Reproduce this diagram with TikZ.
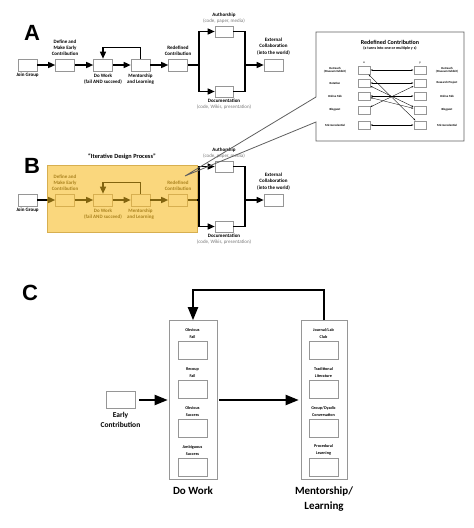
\documentclass[tikz,border=0pt]{standalone}
\usepackage{fontspec}
\setmainfont{Carlito}
\newfontfamily\headfont{Liberation Sans}
\usetikzlibrary{arrows.meta,positioning}

\definecolor{ideafill}{RGB}{250,215,125}
\definecolor{ideaedge}{RGB}{215,175,80}
\definecolor{ideatext}{RGB}{170,130,30}
\definecolor{ideaarrow}{RGB}{130,100,15}
\definecolor{boxedge}{RGB}{150,150,150}
\definecolor{subtext}{RGB}{120,120,120}
\definecolor{insetedge}{RGB}{95,95,95}

\begin{document}
\begin{tikzpicture}[x=1pt,y=-1pt,
	stage/.style={draw=boxedge,fill=white,line width=0.6pt,minimum width=19pt,minimum height=12pt,inner sep=0pt},
	ideastage/.style={stage,draw=ideaedge,fill=ideafill},
	lbl/.style={font=\fontsize{5}{5.8}\selectfont\bfseries,align=center,inner sep=0.3pt},
	sublbl/.style={font=\fontsize{5}{5.8}\selectfont,text=subtext,inner sep=0.3pt},
	flow/.style={line width=1.4pt,-{Triangle[length=7pt,width=6pt]}},
	plain/.style={line width=1.4pt},
	bigflow/.style={line width=2pt,-{Triangle[length=13pt,width=10pt]}},
	panel/.style={font=\headfont\fontsize{22}{22}\selectfont\bfseries,inner sep=0pt},
	tinybox/.style={draw=boxedge,line width=0.4pt,minimum width=12pt,minimum height=8pt,inner sep=0pt},
	tinylbl/.style={font=\fontsize{3}{3.6}\selectfont\bfseries,align=center,inner sep=0pt},
	swap/.style={line width=0.35pt,{Stealth[length=2pt,width=1.6pt]}-{Stealth[length=2pt,width=1.6pt]},shorten <=0.5pt,shorten >=0.5pt},
	collbl/.style={font=\fontsize{4.2}{7}\selectfont\bfseries,align=center,inner sep=0pt},
	biglbl/.style={font=\fontsize{11}{15}\selectfont\bfseries,align=center,inner sep=0pt}
]
	\useasboundingbox (0,0) rectangle (474,528);

	% A
	\node[panel] (tagA) at (32,33) {A};
	\node[stage] (joinA) at (27.5,65) {};
	\node[stage] (defineA) at (65,65) {};
	\node[stage] (workA) at (103,65) {};
	\node[stage] (mentorA) at (140.5,65) {};
	\node[stage] (redefA) at (178,65) {};
	\node[stage,minimum width=18pt,minimum height=11pt] (authorA) at (224,31.5) {};
	\node[stage,minimum width=18pt,minimum height=11pt] (docuA) at (224,91.5) {};
	\node[stage] (externA) at (273.5,65) {};
	\coordinate (splitA) at (199,65);
	\coordinate (mergeA) at (245,65);

	% A labels
	\node[lbl,below=1.5pt of joinA] (joinAlbl) {Join Group};
	\node[lbl,above=3pt of defineA] (defineAlbl) {Define and\\Make Early\\Contribution};
	\node[lbl,below=2pt of workA] (workAlbl) {Do Work\\(fail AND succeed)};
	\node[lbl,below=2pt of mentorA] (mentorAlbl) {Mentorship\\and Learning};
	\node[lbl,above=3pt of redefA] (redefAlbl) {Redefined\\Contribution};
	\node[sublbl,above=2pt of authorA] (authorAsub) {(code, paper, media)};
	\node[lbl,above=0.8pt of authorAsub] (authorAlbl) {Authorship};
	\node[lbl,below=1.5pt of docuA] (docuAlbl) {Documentation};
	\node[sublbl,below=0.8pt of docuAlbl] (docuAsub) {(code, Wikis, presentation)};
	\node[lbl,above=3pt of externA,font=\fontsize{5}{6.5}\selectfont\bfseries] (externAlbl) {External\\Collaboration\\(into the world)};

	% A arrows
	\draw[flow] (joinA) -- (defineA);
	\draw[flow] (defineA) -- (workA);
	\draw[flow] (workA) -- (mentorA);
	\draw[flow] (mentorA) -- (redefA);
	\draw[flow] (mentorA.north) -- ++(0,-11) -| (workA.north);
	\draw[plain] (redefA) -- (splitA);
	\draw[flow] (splitA) |- (authorA);
	\draw[flow] (splitA) |- (docuA);
	\draw[plain] (authorA) -| (mergeA);
	\draw[plain] (docuA) -| (mergeA);
	\draw[flow] (mergeA) -- (externA);

	% B
	\node[panel] (tagB) at (32,166) {B};
	\node[draw=ideaedge,fill=ideafill,line width=0.6pt,minimum width=150pt,minimum height=67pt,inner sep=0pt] (iterative) at (122,198.5) {};
	\node[font=\fontsize{6.3}{7}\selectfont\bfseries,above=1.5pt of iterative] (iterativelbl) {``Iterative Design Process''};
	\node[stage] (joinB) at (27.5,200) {};
	\node[ideastage] (defineB) at (65,200) {};
	\node[ideastage] (workB) at (103,200) {};
	\node[ideastage] (mentorB) at (140.5,200) {};
	\node[ideastage] (redefB) at (178,200) {};
	\node[stage,minimum width=18pt,minimum height=11pt] (authorB) at (224,166.5) {};
	\node[stage,minimum width=18pt,minimum height=11pt] (docuB) at (224,226.5) {};
	\node[stage] (externB) at (273.5,200) {};
	\coordinate (splitB) at (199,200);
	\coordinate (mergeB) at (245,200);

	% B labels
	\node[lbl,below=1.5pt of joinB] (joinBlbl) {Join Group};
	\node[lbl,text=ideatext,above=3pt of defineB] (defineBlbl) {Define and\\Make Early\\Contribution};
	\node[lbl,text=ideatext,below=2pt of workB] (workBlbl) {Do Work\\(fail AND succeed)};
	\node[lbl,text=ideatext,below=2pt of mentorB] (mentorBlbl) {Mentorship\\and Learning};
	\node[lbl,text=ideatext,above=3pt of redefB] (redefBlbl) {Redefined\\Contribution};
	\node[sublbl,above=2pt of authorB] (authorBsub) {(code, paper, media)};
	\node[lbl,above=0.8pt of authorBsub] (authorBlbl) {Authorship};
	\node[lbl,below=1.5pt of docuB] (docuBlbl) {Documentation};
	\node[sublbl,below=0.8pt of docuBlbl] (docuBsub) {(code, Wikis, presentation)};
	\node[lbl,above=3pt of externB,font=\fontsize{5}{6.5}\selectfont\bfseries] (externBlbl) {External\\Collaboration\\(into the world)};

	% B arrows
	\draw[flow,ideaarrow] (joinB) -- (defineB);
	\draw[plain] (joinB) -- (joinB -| iterative.west);
	\draw[flow,ideaarrow] (defineB) -- (workB);
	\draw[flow,ideaarrow] (workB) -- (mentorB);
	\draw[flow,ideaarrow] (mentorB) -- (redefB);
	\draw[flow,ideaarrow] (mentorB.north) -- ++(0,-11) -| (workB.north);
	\draw[plain,ideaarrow] (redefB) -- (redefB -| iterative.east);
	\draw[plain] (redefB -| iterative.east) -- (splitB);
	\draw[flow] (splitB) |- (authorB);
	\draw[flow] (splitB) |- (docuB);
	\draw[plain] (authorB) -| (mergeB);
	\draw[plain] (docuB) -| (mergeB);
	\draw[flow] (mergeB) -- (externB);

	% inset: redefined contribution
	\coordinate (pointer) at (185,176);
	\draw[insetedge,line width=0.8pt,line join=miter] (316,32) -- (464,32) -- (464,141) -- (316,141) -- (316,122) -- (pointer) -- (316,97) -- cycle;
	\node[font=\fontsize{6}{7}\selectfont\bfseries,inner sep=0pt] (insettitle) at (390,42) {Redefined Contribution};
	\node[font=\fontsize{4}{5}\selectfont\bfseries,inner sep=0pt] (insetsub) at (390,48) {(x turns into one or multiple y s)};
	\node[tinybox] (outL) at (364,70) {};
	\node[tinybox] (rotL) at (364,83) {};
	\node[tinybox] (onlL) at (364,96) {};
	\node[tinybox] (blogL) at (364,110) {};
	\node[tinybox] (microL) at (364,125) {};
	\node[tinybox] (outR) at (420,70) {};
	\node[tinybox] (resR) at (420,83) {};
	\node[tinybox] (onlR) at (420,96) {};
	\node[tinybox] (blogR) at (420,110) {};
	\node[tinybox] (microR) at (420,125) {};
	\node[tinylbl,above=2pt of outL] (xlbl) {x};
	\node[tinylbl,above=2pt of outR] (ylbl) {y};
	\node[tinylbl] (outLlbl) at (335,70) {Outreach\\(Museum Exhibit)};
	\node[tinylbl] (rotLlbl) at (335,83) {Rotation};
	\node[tinylbl] (onlLlbl) at (335,96) {Online Talk};
	\node[tinylbl] (blogLlbl) at (335,110) {Blogpost};
	\node[tinylbl] (microLlbl) at (335,125) {Microcredential};
	\node[tinylbl] (outRlbl) at (447,70) {Outreach\\(Museum Exhibit)};
	\node[tinylbl] (resRlbl) at (447,83) {Research Project};
	\node[tinylbl] (onlRlbl) at (447,96) {Online Talk};
	\node[tinylbl] (blogRlbl) at (447,110) {Blogpost};
	\node[tinylbl] (microRlbl) at (447,125) {Microcredential};
	\draw[swap] (outL) -- (outR);
	\draw[swap] (outL) -- (microR);
	\draw[swap] (rotL) -- (resR);
	\draw[swap] (rotL) -- (blogR);
	\draw[swap] (onlL) -- (onlR);
	\draw[swap] (onlL) -- (blogR);
	\draw[swap] (blogL) -- (resR);
	\draw[swap] (microL) -- (microR);

	% C
	\node[panel] (tagC) at (30,293) {C};
	\node[stage,minimum width=29pt,minimum height=17pt] (early) at (120.5,400) {};
	\node[font=\fontsize{7.5}{10}\selectfont\bfseries,align=center,inner sep=0pt,below=3pt of early] (earlylbl) {Early\\Contribution};

	% do work column
	\node[draw=boxedge,line width=0.6pt,minimum width=48pt,minimum height=159pt,inner sep=0pt] (workcol) at (193,400) {};
	\node[stage,minimum width=29pt,minimum height=18pt] (obfail) at (192.5,350) {};
	\node[stage,minimum width=29pt,minimum height=18pt] (refail) at (192.5,389) {};
	\node[stage,minimum width=29pt,minimum height=18pt] (obsucc) at (192.5,428) {};
	\node[stage,minimum width=29pt,minimum height=18pt] (ambsucc) at (192.5,467) {};
	\node[collbl,above=2pt of obfail] (obfaillbl) {Obvious\\Fail};
	\node[collbl,above=2pt of refail] (refaillbl) {Recoup\\Fail};
	\node[collbl,above=2pt of obsucc] (obsucclbl) {Obvious\\Success};
	\node[collbl,above=2pt of ambsucc] (ambsucclbl) {Ambiguous\\Success};
	\node[biglbl,below=7pt of workcol] (workcollbl) {Do Work};

	% mentorship column
	\node[draw=boxedge,line width=0.6pt,minimum width=46pt,minimum height=159pt,inner sep=0pt] (mentorcol) at (324,400) {};
	\node[stage,minimum width=29pt,minimum height=18pt] (journal) at (323.5,350) {};
	\node[stage,minimum width=29pt,minimum height=18pt] (tradlit) at (323.5,389) {};
	\node[stage,minimum width=29pt,minimum height=18pt] (dyadic) at (323.5,428) {};
	\node[stage,minimum width=29pt,minimum height=18pt] (proced) at (323.5,467) {};
	\node[collbl,above=2pt of journal] (journallbl) {Journal/Lab\\Club};
	\node[collbl,above=2pt of tradlit] (tradlitlbl) {Traditional\\Literature};
	\node[collbl,above=2pt of dyadic] (dyadiclbl) {Group/Dyadic\\Conversation};
	\node[collbl,above=2pt of proced] (procedlbl) {Procedural\\Learning};
	\node[biglbl,below=7pt of mentorcol] (mentorcollbl) {Mentorship/\\Learning};

	% C arrows
	\draw[bigflow,shorten <=4pt,shorten >=1pt] (early) -- (workcol);
	\draw[bigflow,shorten <=2pt,shorten >=2pt] (workcol) -- (mentorcol);
	\draw[bigflow,line join=miter] (mentorcol.north) -- ++(0,-30) -| (workcol.north);

\end{tikzpicture}
\end{document}
